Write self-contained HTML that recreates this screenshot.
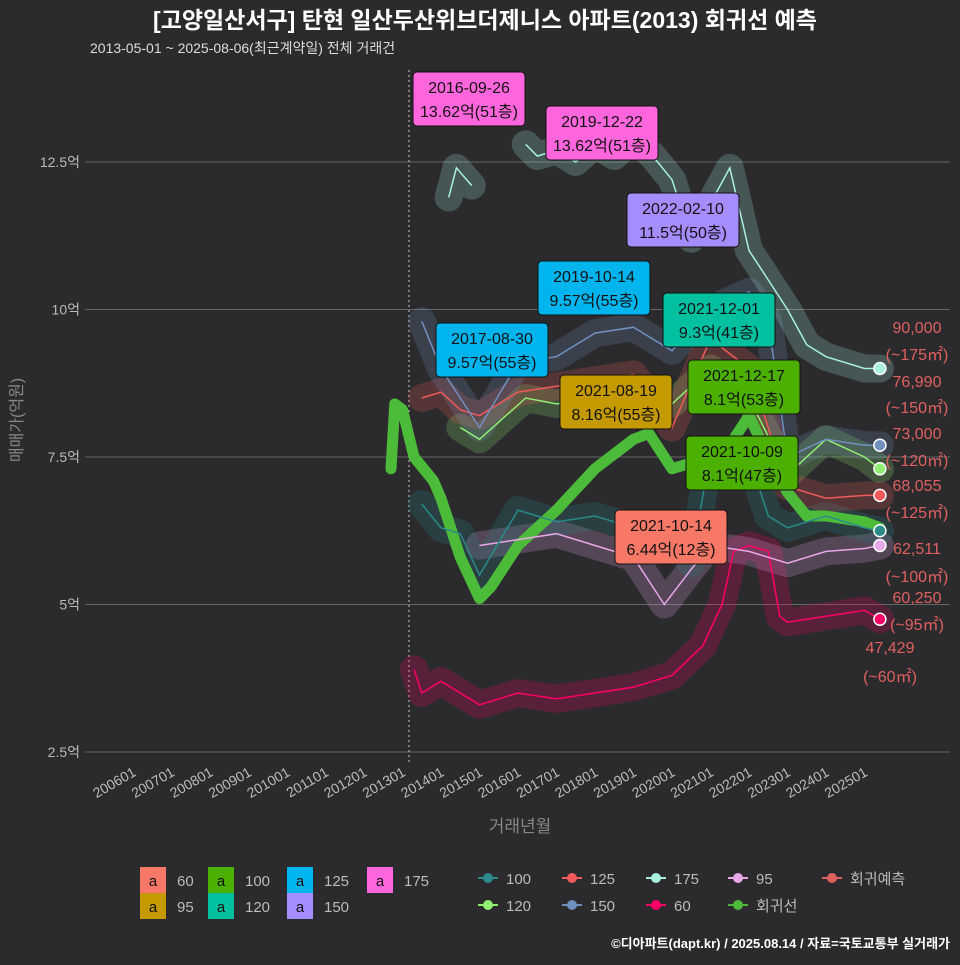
<!DOCTYPE html>
<html><head><meta charset="utf-8">
<style>
body{margin:0;background:#2b2b2d;font-family:"Liberation Sans","Noto Sans CJK KR",sans-serif;}
svg text{font-family:"Liberation Sans","Noto Sans CJK KR",sans-serif;}
</style></head>
<body>
<svg id="c" width="960" height="960" xmlns="http://www.w3.org/2000/svg">
<rect width="960" height="960" fill="#2b2b2d"/>
<text x="485" y="28" fill="#fff" font-size="23" font-weight="bold" text-anchor="middle">[고양일산서구] 탄현 일산두산위브더제니스 아파트(2013) 회귀선 예측</text>
<text x="90" y="53" fill="#ddd" font-size="14">2013-05-01 ~ 2025-08-06(최근계약일) 전체 거래건</text>
<g id="grid"></g><g id="clouds"></g><g id="lines"></g><g id="labels"></g>
<text x="22" y="420" fill="#888" font-size="16" transform="rotate(-90 22 420)" text-anchor="middle">매매가(억원)</text>
<text x="520" y="832" fill="#888" font-size="17" text-anchor="middle">거래년월</text>
<g id="legend"></g>
<text x="950" y="948" fill="#fff" font-size="13" font-weight="bold" text-anchor="end">©디아파트(dapt.kr) / 2025.08.14 / 자료=국토교통부 실거래가</text>
</svg>
<script>
const yTicks=[2.5,5,7.5,10,12.5];
const yTickLabels=['2.5억','5억','7.5억','10억','12.5억'];
const xTicks=[2006,2007,2008,2009,2010,2011,2012,2013,2014,2015,2016,2017,2018,2019,2020,2021,2022,2023,2024,2025];
const xTickLabels=['200601','200701','200801','200901','201001','201101','201201','201301','201401','201501','201601','201701','201801','201901','202001','202101','202201','202301','202401','202501'];
const s60x=[2013.3,2013.5,2014,2015,2016,2017,2018,2019,2020,2020.8,2021.3,2021.6,2022,2022.5,2022.8,2023,2024,2025,2025.4];
const s60y=[3.9,3.5,3.7,3.3,3.5,3.4,3.5,3.6,3.8,4.3,5.0,5.9,6.0,5.9,4.8,4.7,4.8,4.9,4.75];
const s95x=[2015,2016,2017,2018,2019,2019.8,2020.5,2021,2022,2023,2024,2025,2025.4];
const s95y=[6.0,6.1,6.2,6.0,5.8,5.0,5.6,6.0,5.9,5.7,5.9,5.95,6.0];
const s100x=[2013.5,2014,2014.5,2015,2016,2017,2018,2019,2020,2020.5,2021,2022,2022.5,2023,2024,2025,2025.4];
const s100y=[6.7,6.3,6.2,5.5,6.6,6.4,6.5,6.3,6.2,5.7,7.6,7.5,6.5,6.3,6.5,6.3,6.25];
const s120x=[2014.5,2015,2016.2,2017,2018,2019,2020,2021,2022,2023,2024,2025,2025.4];
const s120y=[8.0,7.8,8.5,8.4,8.5,8.6,8.4,9.0,8.5,7.2,7.8,7.5,7.3];
const s125x=[2013.5,2014,2014.5,2015,2016,2017,2018,2019,2020,2021,2022,2023,2024,2025,2025.4];
const s125y=[8.5,8.6,8.3,8.2,8.6,8.7,8.8,8.9,8.0,9.5,9.0,7.0,6.8,6.85,6.85];
const s150x=[2013.5,2014,2015,2016,2017,2018,2019,2020,2021,2022,2022.5,2023,2024,2025,2025.4];
const s150y=[9.8,9.0,8.0,9.1,9.2,9.6,9.7,9.3,10.0,10.3,9.8,7.5,7.8,7.7,7.7];
const s175x=[2016.2,2016.5,2017,2017.5,2018,2018.5,2019,2019.5,2020,2020.5,2021,2021.5,2022,2022.5,2023,2023.5,2024,2025,2025.4];
const s175y=[12.8,12.6,12.7,12.5,12.8,12.6,12.9,12.6,12.2,11.2,11.8,12.4,11.0,10.5,10.0,9.4,9.2,9.0,9.0];
const s175ax=[2014.2,2014.4,2014.8];
const s175ay=[11.9,12.4,12.1];
const regX=[2012.7,2012.8,2013,2013.3,2013.8,2014,2014.5,2015,2015.3,2016,2017,2018,2019,2019.4,2020,2020.5,2021,2021.6,2022,2022.5,2023,2023.5,2024,2025,2025.4];
const regY=[7.3,8.4,8.3,7.5,7.1,6.8,5.8,5.1,5.3,6.0,6.6,7.3,7.8,7.9,7.3,7.4,7.1,7.8,8.2,7.5,6.9,6.5,6.5,6.4,6.3];
const X=t=>133+(t-2006)*38.5, Y=v=>752-(v-2.5)*59;
const NS='http://www.w3.org/2000/svg';
function mk(p,tag,a){const e=document.createElementNS(NS,tag);for(const k in a)e.setAttribute(k,a[k]);p.appendChild(e);return e;}
const G=id=>document.getElementById(id);
yTicks.forEach((v,i)=>{
 const l=mk(G('grid'),'line',{x1:85,x2:950,y1:Y(v),y2:Y(v),stroke:'#666','stroke-width':1});
 
 
 const t=mk(G('grid'),'text',{x:80,y:Y(v)+5,fill:'#bbb','font-size':14,'text-anchor':'end'});t.textContent=yTickLabels[i];
 
 
});
xTicks.forEach((v,i)=>{
 const t=mk(G('grid'),'text',{x:X(v)+4,y:775,fill:'#bbb','font-size':14,'text-anchor':'end',transform:`rotate(-30 ${X(v)+4} 775)`});t.textContent=xTickLabels[i];
 
 
});
const dl=mk(G('grid'),'line',{x1:409,x2:409,y1:70,y2:765,stroke:'#ccc','stroke-dasharray':'2,3'});


const series=[['60','#ff0066',s60x,s60y],['95','#e8a8e8',s95x,s95y],['100','#2a8a8a',s100x,s100y],['120','#90ee70',s120x,s120y],['125','#f05a5a',s125x,s125y],['150','#7090c0',s150x,s150y],['175','#a8f0e0',s175x,s175y],['175b','#a8f0e0',s175ax,s175ay]];
const path=(xs,ys)=>xs.map((x,i)=>(i?'L':'M')+X(x).toFixed(1)+','+Y(ys[i]).toFixed(1)).join('');
series.forEach(s=>{
 const c=mk(G('clouds'),'path',{d:path(s[2],s[3]),stroke:s[1],'stroke-width':28,fill:'none',opacity:0.22,'stroke-linejoin':'round','stroke-linecap':'round'});
 
 
});
const r=mk(G('lines'),'path',{d:path(regX,regY),stroke:'#4dbb3a','stroke-width':11,fill:'none','stroke-linejoin':'round','stroke-linecap':'round'});


series.forEach(s=>{
 const p=mk(G('lines'),'path',{d:path(s[2],s[3]),stroke:s[1],'stroke-width':1.5,fill:'none'});
 
 
 if(s[0]!='175b'){const n=s[2].length-1;
 const e=mk(G('lines'),'circle',{cx:X(s[2][n]),cy:Y(s[3][n]),r:6,fill:s[1],stroke:'#fff','stroke-width':1.5});
 
 }
});
const boxes=[[413,72,'#ff66dd','2016-09-26','13.62억(51층)'],[546,106,'#ff66dd','2019-12-22','13.62억(51층)'],[627,193,'#a58cff','2022-02-10','11.5억(50층)'],[538,261,'#00b4ee','2019-10-14','9.57억(55층)'],[436,323,'#00b4ee','2017-08-30','9.57억(55층)'],[663,293,'#00c0a0','2021-12-01','9.3억(41층)'],[560,375,'#c49a00','2021-08-19','8.16억(55층)'],[688,360,'#4cb000','2021-12-17','8.1억(53층)'],[686,436,'#4cb000','2021-10-09','8.1억(47층)'],[615,510,'#f87868','2021-10-14','6.44억(12층)']];
boxes.forEach(b=>{
 const g=mk(G('labels'),'g',{});
 
 
 mk(g,'rect',{x:b[0],y:b[1],width:112,height:54,rx:4,fill:b[2],stroke:'#111'});
 let t=mk(g,'text',{x:b[0]+56,y:b[1]+21,'font-size':16,'text-anchor':'middle',fill:'#111'});t.textContent=b[3];
 t=mk(g,'text',{x:b[0]+56,y:b[1]+45,'font-size':16,'text-anchor':'middle',fill:'#111'});t.textContent=b[4];
});
const rl=[[917,333,'90,000'],[917,360,'(~175㎡)'],[917,387,'76,990'],[917,413,'(~150㎡)'],[917,439,'73,000'],[917,466,'(~120㎡)'],[917,491,'68,055'],[917,518,'(~125㎡)'],[917,554,'62,511'],[917,582,'(~100㎡)'],[917,603,'60,250'],[917,630,'(~95㎡)'],[890,653,'47,429'],[890,682,'(~60㎡)']];
rl.forEach(a=>{const t=mk(G('labels'),'text',{x:a[0],y:a[1],fill:'#e06060','font-size':16,'text-anchor':'middle'});t.textContent=a[2];
 
 });
const lg=[[140,867,'#f87868','60'],[208,867,'#4cb000','100'],[287,867,'#00b4ee','125'],[367,867,'#ff66dd','175'],[140,893,'#c49a00','95'],[208,893,'#00c0a0','120'],[287,893,'#a58cff','150']];
lg.forEach(a=>{const g=mk(G('legend'),'g',{});
 
 
 mk(g,'rect',{x:a[0],y:a[1],width:26,height:26,fill:a[2]});
 let t=mk(g,'text',{x:a[0]+13,y:a[1]+19,'font-size':15,'text-anchor':'middle',fill:'#111'});t.textContent='a';
 t=mk(g,'text',{x:a[0]+37,y:a[1]+19,'font-size':15,fill:'#bbb'});t.textContent=a[3];});
const lg2=[[488,878,'#2a8a8a','100'],[572,878,'#f05a5a','125'],[656,878,'#a8f0e0','175'],[738,878,'#e8a8e8','95'],[832,878,'#e06060','회귀예측'],[488,905,'#90ee70','120'],[572,905,'#7090c0','150'],[656,905,'#ff0066','60'],[738,905,'#4dbb3a','회귀선']];
lg2.forEach(a=>{const g=mk(G('legend'),'g',{});
 
 
 mk(g,'line',{x1:a[0]-10,x2:a[0]+10,y1:a[1],y2:a[1],stroke:a[2],'stroke-width':2});
 mk(g,'circle',{cx:a[0],cy:a[1],r:5,fill:a[2]});
 const t=mk(g,'text',{x:a[0]+18,y:a[1]+6,'font-size':15,fill:'#bbb'});t.textContent=a[3];});
</script>
</body></html>
